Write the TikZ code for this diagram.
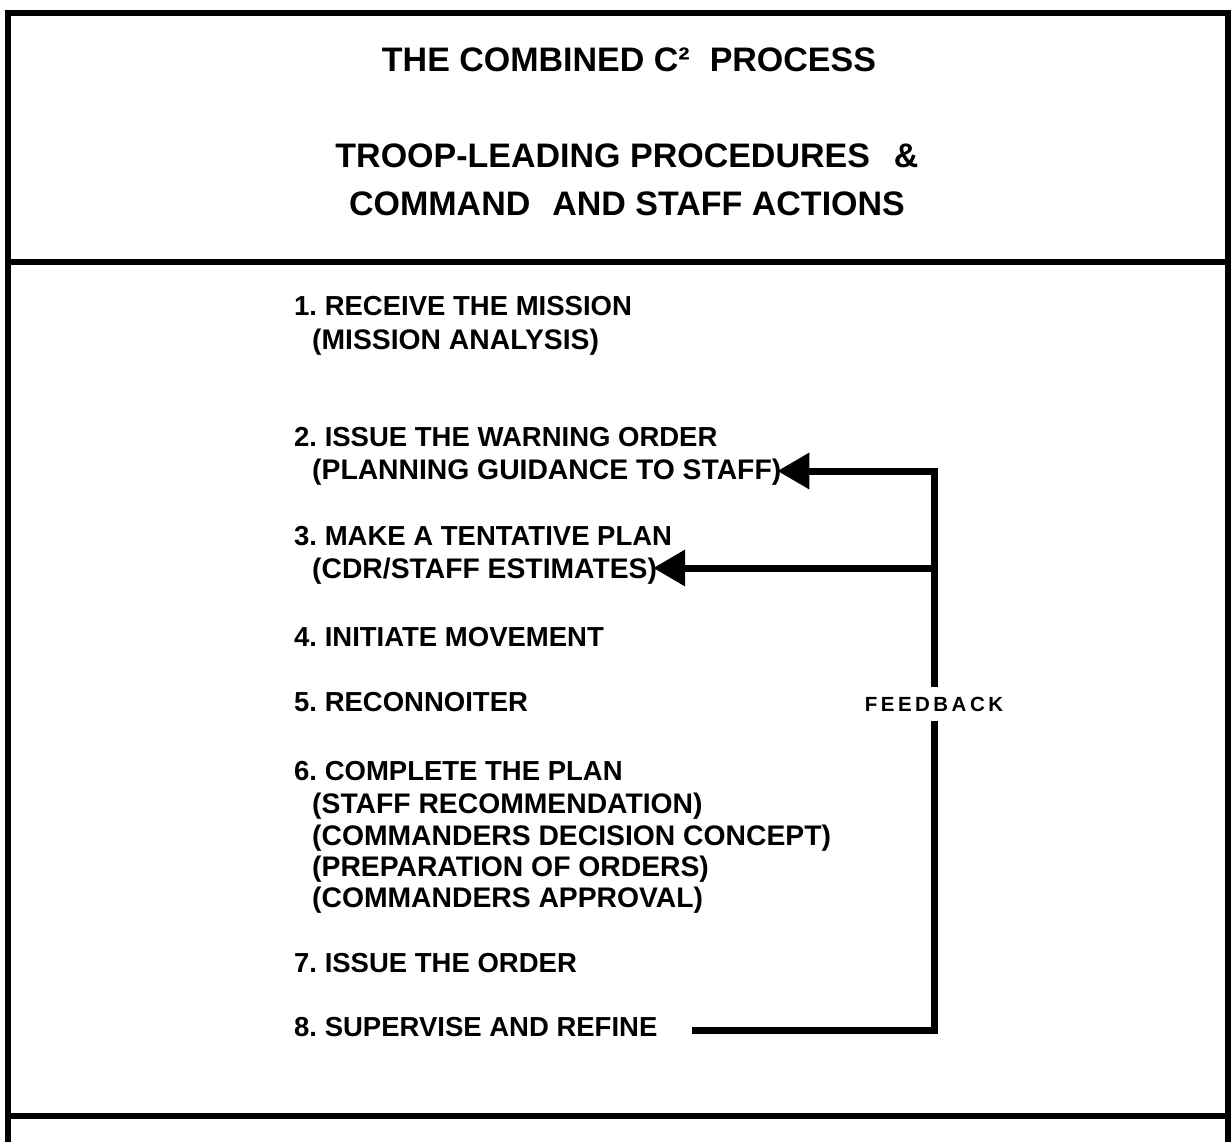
\documentclass[tikz,border=0pt]{standalone}
\usepackage{fontspec}
\setmainfont{Liberation Sans}
\newfontfamily\fbfont[LetterSpace=17]{Liberation Sans}
\usetikzlibrary{arrows.meta}
\frenchspacing

\begin{document}
\begin{tikzpicture}[x=1pt,y=-1pt,
  frame/.style={line width=6pt},
  heading/.style={anchor=base, inner sep=0pt, font=\fontsize{34}{38}\selectfont\bfseries},
  stepline/.style={anchor=base west, inner sep=0pt, font=\fontsize{27.5}{30}\selectfont\bfseries},
  subline/.style={anchor=base west, inner sep=0pt, font=\fontsize{28.3}{31}\selectfont\bfseries},
  fblabel/.style={font=\fbfont\fontsize{20.5}{23}\selectfont\bfseries, inner xsep=2pt, inner ysep=9.5pt},
  fbline/.style={line width=7pt},
  fbarrow/.style={line width=7pt, -{Triangle[length=32pt,width=35pt]}, shorten >=-4pt},
]
\useasboundingbox (0,0) rectangle (1232,1142);
\fill[white] (0,0) rectangle (1232,1142);

% outer frame and the two dividing rules
\draw[frame] (8,1150) -- (8,13) -- (1228,13) -- (1228,1150);
\draw[frame] (8,262) -- (1228,262);
\draw[frame] (8,1116) -- (1228,1116);

% heading
\node[heading] (t1) at (629,72) {THE COMBINED C²\hspace{20pt}PROCESS};
\node[heading] (t2) at (627,168) {TROOP-LEADING PROCEDURES\hspace{24pt}\&};
\node[heading] (t3) at (627,216) {COMMAND\hspace{22pt}AND STAFF ACTIONS};

% the eight steps
\node[stepline] (n1)  at (294,316) {1. RECEIVE THE MISSION};
\node[subline]  (n1a) at (312,349) {(MISSION ANALYSIS)};
\node[stepline] (n2)  at (294,446) {2. ISSUE THE WARNING ORDER};
\node[subline]  (n2a) at (312,479) {(PLANNING GUIDANCE TO STAFF)};
\node[stepline] (n3)  at (294,545) {3. MAKE A TENTATIVE PLAN};
\node[subline]  (n3a) at (312,578) {(CDR/STAFF ESTIMATES)};
\node[stepline] (n4)  at (294,646) {4. INITIATE MOVEMENT};
\node[stepline] (n5)  at (294,711) {5. RECONNOITER};
\node[stepline] (n6)  at (294,780) {6. COMPLETE THE PLAN};
\node[subline]  (n6a) at (312,813) {(STAFF RECOMMENDATION)};
\node[subline]  (n6b) at (312,845) {(COMMANDERS DECISION CONCEPT)};
\node[subline]  (n6c) at (312,876) {(PREPARATION OF ORDERS)};
\node[subline]  (n6d) at (312,907) {(COMMANDERS APPROVAL)};
\node[stepline] (n7)  at (294,972) {7. ISSUE THE ORDER};
\node[stepline] (n8)  at (294,1036) {8. SUPERVISE AND REFINE};

% feedback loop
\node[fblabel] (fb) at (934,704) {FEEDBACK};
\coordinate (k2) at (934,471);
\coordinate (k3) at (934,568);
\coordinate (k8) at (934,1030);
\coordinate (tail) at (692,1030);

\draw[fbline] (tail) -- (k8) -- (fb.south);
\draw[fbarrow] (fb.north) -- (k2) -- (n2a.east |- k2);
\draw[fbarrow] (k3) -- (n3a.east |- k3);
\end{tikzpicture}
\end{document}
